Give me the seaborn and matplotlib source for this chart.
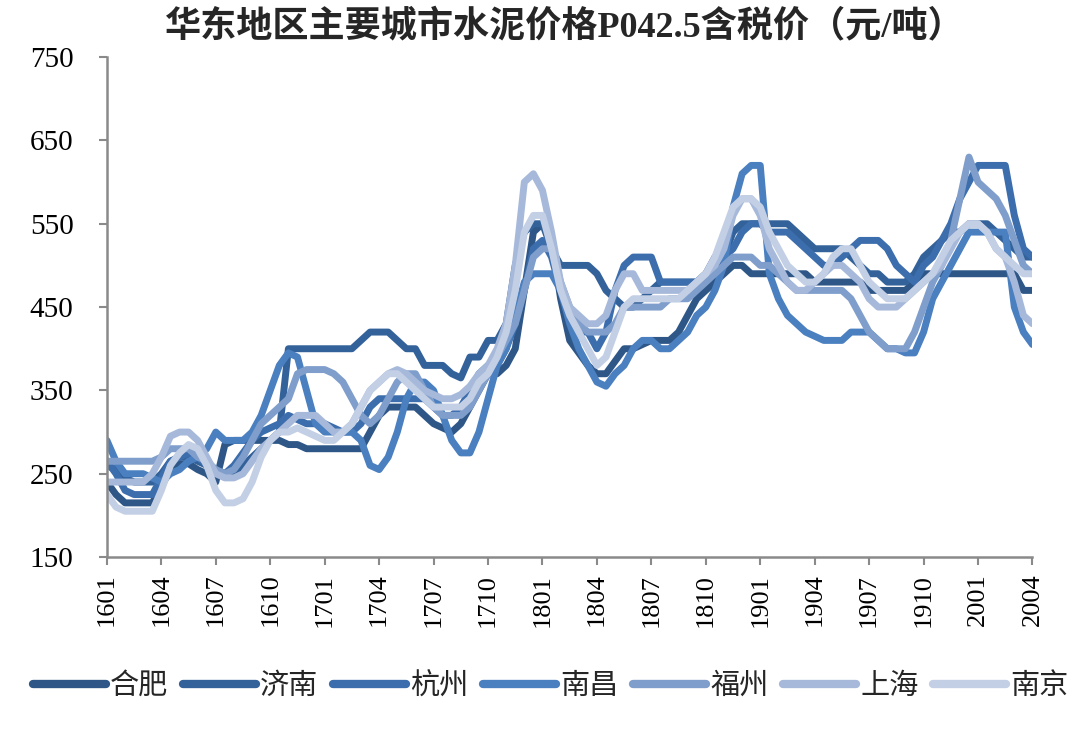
import pandas as pd
import seaborn as sns
from matplotlib import pyplot as plt

# 半月度数据点, 1601 到 2004
months = ["1601", "1604", "1607", "1610", "1701", "1704", "1707", "1710", "1801",
          "1804", "1807", "1810", "1901", "1904", "1907", "1910", "2001", "2004"]

cities = ["合肥", "济南", "杭州", "南昌", "福州", "上海", "南京"]
colors = ["#2E5788", "#33629A", "#3C6DAC", "#4A7FC0", "#809ECB", "#A7B9DA", "#C3CFE5"]

hefei = [240, 225, 215, 215, 215, 215, 235, 255, 262, 262,
         255, 250, 240, 285, 290, 290, 290, 290, 290, 290,
         285, 285, 280, 280, 280, 280, 280, 280, 280, 300,
         320, 330, 330, 330, 330, 320, 310, 305, 300, 310,
         330, 350, 370, 370, 380, 400, 470, 540, 550, 530,
         460, 410, 395, 380, 370, 370, 385, 400, 400, 405,
         410, 410, 410, 420, 440, 460, 470, 480, 490, 500,
         500, 490, 490, 490, 490, 490, 490, 490, 480, 480,
         480, 480, 480, 480, 470, 470, 470, 470, 470, 480,
         490, 490, 490, 490, 490, 490, 490, 490, 490, 490,
         490, 470, 470]

jinan = [260, 255, 245, 240, 240, 240, 250, 265, 270, 270,
         265, 260, 255, 250, 250, 260, 270, 280, 290, 300,
         400, 400, 400, 400, 400, 400, 400, 400, 410, 420,
         420, 420, 410, 400, 400, 380, 380, 380, 370, 365,
         390, 390, 410, 410, 430, 500, 540, 550, 550, 520,
         500, 500, 500, 500, 490, 470, 460, 450, 450, 460,
         470, 480, 480, 480, 480, 480, 490, 510, 510, 540,
         550, 550, 550, 550, 550, 550, 540, 530, 520, 520,
         520, 520, 510, 500, 490, 490, 480, 480, 480, 490,
         510, 520, 530, 540, 540, 550, 550, 550, 540, 530,
         520, 510, 510]

hangzhou = [265, 250, 230, 225, 225, 225, 245, 265, 270, 275,
            270, 260, 250, 250, 260, 275, 290, 300, 305, 310,
            320, 315, 310, 310, 310, 305, 300, 300, 310, 330,
            340, 340, 340, 340, 340, 340, 330, 320, 320, 330,
            350, 370, 380, 380, 400, 430, 470, 520, 530, 510,
            470, 440, 420, 420, 400, 420, 470, 500, 510, 510,
            510, 480, 480, 480, 480, 480, 490, 500, 510, 520,
            540, 550, 550, 540, 540, 540, 530, 520, 510, 500,
            500, 510, 520, 530, 530, 530, 520, 500, 490, 480,
            500, 510, 530, 550, 580, 600, 620, 620, 620, 620,
            560, 520, 510]

nanchang = [290, 265, 250, 250, 250, 245, 240, 250, 255, 265,
            270, 280, 300, 290, 290, 290, 300, 320, 350, 380,
            395, 390, 350, 310, 300, 300, 300, 300, 290, 260,
            255, 270, 300, 340, 360, 360, 350, 320, 290, 275,
            275, 300, 340, 380, 400, 440, 480, 490, 490, 490,
            470, 430, 400, 380, 360, 355, 370, 380, 400, 410,
            410, 400, 400, 410, 420, 440, 450, 470, 500, 570,
            610, 620, 620, 490, 460, 440, 430, 420, 415, 410,
            410, 410, 420, 420, 420, 410, 400, 400, 395, 395,
            420, 460, 480, 500, 520, 540, 540, 540, 540, 540,
            450, 420, 405]

fuzhou = [265, 265, 265, 265, 265, 265, 270, 280, 280, 280,
          270, 265, 255, 250, 255, 270, 290, 310, 320, 330,
          340, 370, 375, 375, 375, 370, 360, 340, 320, 310,
          320, 340, 360, 370, 370, 350, 330, 320, 320, 320,
          330, 350, 370, 390, 410, 430, 470, 510, 520, 520,
          480, 450, 430, 420, 420, 420, 430, 450, 450, 450,
          450, 450, 460, 460, 460, 470, 480, 490, 500, 510,
          510, 510, 500, 500, 490, 480, 470, 470, 470, 470,
          470, 470, 460, 440, 420, 410, 400, 400, 400, 420,
          450, 480, 500, 530, 580, 630, 600, 590, 580, 560,
          530, 500, 490]

shanghai = [240, 240, 240, 240, 240, 250, 270, 295, 300, 300,
            290, 270, 250, 245, 245, 250, 265, 280, 290, 300,
            310, 320, 320, 320, 310, 300, 300, 310, 330, 350,
            360, 370, 375, 370, 360, 350, 345, 340, 340, 345,
            355, 370, 380, 400, 430, 500, 600, 610, 590, 540,
            480, 450, 440, 430, 430, 440, 470, 490, 490, 470,
            470, 470, 470, 470, 470, 480, 490, 500, 520, 560,
            580, 580, 560, 520, 500, 480, 470, 470, 480, 490,
            500, 500, 490, 480, 460, 450, 450, 450, 460, 470,
            480, 490, 500, 520, 540, 550, 550, 540, 520, 510,
            480, 440, 430]

nanjing = [225, 210, 205, 205, 205, 205, 230, 260, 275, 285,
           280, 260, 230, 215, 215, 220, 240, 270, 290, 300,
           300, 305, 300, 295, 290, 290, 300, 310, 330, 350,
           360, 370, 370, 360, 350, 340, 330, 330, 330, 330,
           340, 360, 370, 390, 420, 470, 540, 560, 560, 520,
           470, 440, 420, 400, 380, 390, 420, 450, 460, 460,
           460, 460, 460, 460, 470, 480, 490, 510, 540, 570,
           580, 580, 570, 540, 520, 500, 490, 480, 480, 490,
           510, 520, 520, 500, 480, 470, 460, 460, 460, 470,
           480, 490, 510, 530, 540, 550, 550, 540, 520, 510,
           500, 490, 490]

series = [hefei, jinan, hangzhou, nanchang, fuzhou, shanghai, nanjing]

wide = pd.DataFrame(dict(zip(cities, series)))
wide["k"] = range(len(wide))
df = wide.melt(id_vars="k", var_name="city", value_name="price")

sns.set_theme(style="white")
plt.rcParams["font.family"] = ["Liberation Serif", "Noto Sans CJK SC", "DejaVu Sans"]
plt.rcParams["lines.solid_joinstyle"] = "round"
plt.rcParams["lines.solid_capstyle"] = "round"

fig = plt.figure(figsize=(10.8, 7.32), dpi=100)
ax = fig.add_axes([0.099, 0.239, 0.857, 0.683])

sns.lineplot(data=df, x="k", y="price", hue="city", hue_order=cities,
             palette=colors, linewidth=5, ax=ax)

ax.set_xlim(0, len(wide) - 1)
ax.set_ylim(150, 750)
ax.set_xticks(range(0, len(wide), 6))
ax.set_xticklabels(months, rotation=90, fontsize=19)
ax.set_yticks(range(150, 751, 100))
ax.tick_params(axis="y", labelsize=21, pad=18)
ax.tick_params(axis="both", direction="out", length=6, width=1.5,
               color="#8A8A8A", left=True, bottom=True, labelcolor="black")
ax.tick_params(axis="x", pad=6)
ax.set_xlabel("")
ax.set_ylabel("")

for side in ["top", "right"]:
    ax.spines[side].set_visible(False)
for side in ["left", "bottom"]:
    ax.spines[side].set_color("#8A8A8A")
    ax.spines[side].set_linewidth(1.8)

handles, labels = ax.get_legend_handles_labels()
ax.get_legend().remove()
leg = fig.legend(handles, labels, loc="center", bbox_to_anchor=(0.51, 0.063),
                 ncol=7, frameon=False, handlelength=2.5, handletextpad=0.15,
                 columnspacing=0.5,
                 prop={"family": ["Noto Sans CJK SC"], "size": 21})
for line in leg.get_lines():
    line.set_linewidth(6)

fig.text(0.523, 0.963, "华东地区主要城市水泥价格P042.5含税价（元/吨）",
         ha="center", va="center", fontsize=26, fontweight="bold")

plt.savefig("out.png", dpi=100)
